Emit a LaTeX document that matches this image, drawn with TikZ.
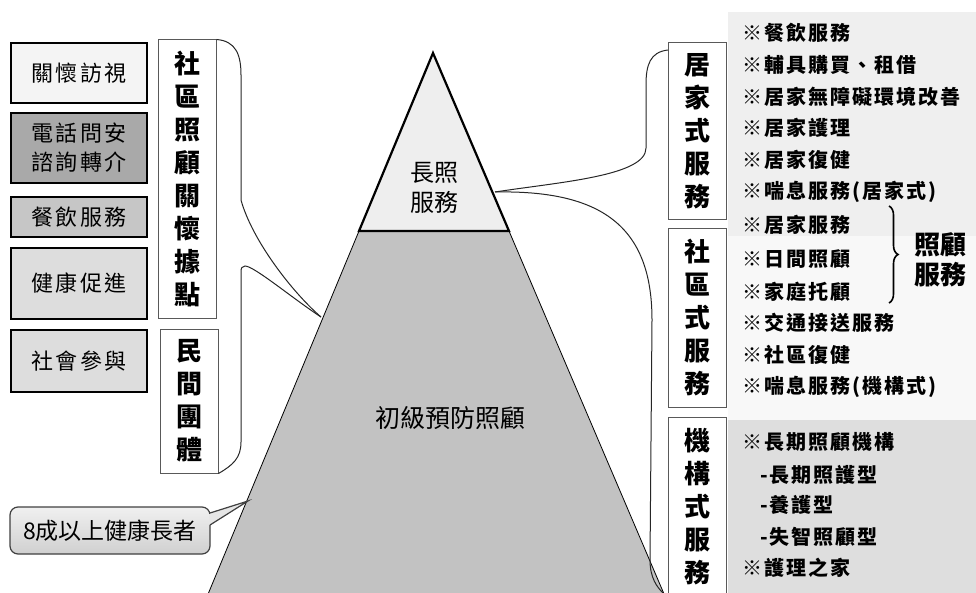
\documentclass[tikz,border=0pt]{standalone}
\usepackage{fontspec}
\setmainfont{Noto Sans CJK TC}
\newfontfamily\spacedcjk{Noto Sans CJK TC}[LetterSpace=10]
\usetikzlibrary{decorations.pathreplacing,calc}
\definecolor{pyrdark}{HTML}{C2C2C2}
\definecolor{pyrtop}{HTML}{EEEEEE}
\definecolor{bgA}{HTML}{EFEFEF}
\definecolor{bgB}{HTML}{F8F8F8}
\definecolor{bgC}{HTML}{DEDEDE}
\definecolor{fA}{HTML}{F4F4F4}
\definecolor{fB}{HTML}{A9A9A9}
\definecolor{fC}{HTML}{C6C6C6}
\definecolor{fD}{HTML}{DDDDDD}
\definecolor{callTop}{HTML}{F0F0F0}
\definecolor{callBot}{HTML}{D0D0D0}
\definecolor{callMid}{HTML}{E6E6E6}
\begin{document}
\begin{tikzpicture}[x=1pt,y=-1pt,
  lbox/.style={draw=black, line width=2.2pt, minimum width=136pt, inner sep=0pt, align=center,
    font=\spacedcjk\fontsize{22}{29}\selectfont},
  vbox/.style={draw=black!65, line width=1pt, fill=white, minimum width=58pt, inner sep=0pt, align=center,
    font=\bfseries\fontsize{26}{33}\selectfont},
  item/.style={anchor=west, inner sep=0pt, font=\spacedcjk\bfseries\fontsize{20}{22}\selectfont},
  link/.style={draw=black!85, line width=1pt},
  plabel/.style={inner sep=0pt, align=center, font=\fontsize{24}{30}\selectfont}
]
\useasboundingbox (0,0) rectangle (976,593);
\clip (0,0) rectangle (976,593);

% right background panels
\fill[bgA] (728,12) rectangle (976,236);
\fill[bgB] (728,236) rectangle (976,420);
\fill[bgC] (728,420) rectangle (976,593);

% pyramid
\fill[pyrdark] (359,231) -- (509,231) -- (666.6,600) -- (205.6,600) -- cycle;
\draw[line width=0.8pt] (359,231) -- (205.6,600);
\draw[line width=0.8pt] (509,231) -- (666.6,600);
\draw[line width=2.2pt, fill=pyrtop, line join=miter] (433,53) -- (509,231) -- (359,231) -- cycle;
\node[plabel] (lt) at (434,188) {長照\\服務};
\node[plabel, font=\fontsize{25}{30}\selectfont] (prim) at (450,418) {初級預防照顧};

\coordinate (pL) at (321,317);
\coordinate (pB) at (248,501);
\coordinate (pR) at (495,192);

% left boxes
\node[lbox, fill=fA, minimum height=60pt] (b1) at (79,73) {關懷訪視};
\node[lbox, fill=fB, minimum height=70pt] (b2) at (79,148) {電話問安\\諮詢轉介};
\node[lbox, fill=fC, minimum height=40pt] (b3) at (79,217) {餐飲服務};
\node[lbox, fill=fD, minimum height=71pt] (b4) at (79,283.5) {健康促進};
\node[lbox, fill=fD, minimum height=62pt] (b5) at (79,361) {社會參與};

% left vertical boxes
\node[vbox, minimum height=278pt] (va) at (187,179) {社\\區\\照\\顧\\關\\懷\\據\\點};
\node[vbox, minimum height=144pt] (vb) at (189,401) {民\\間\\團\\體};

% left bracket
\draw[link] (va.north east) .. controls (236,41) and (241,55) .. (241,75) -- (241,200)
  .. controls (252,240) and (292,292) .. (pL);
\draw[link] (pL) .. controls (292,298) and (254,266) .. (245,266)
  .. controls (242,266) and (241,268) .. (241,272) -- (241,442)
  .. controls (241,458) and (233,465) .. (vb.south east);

% callout
\node[draw=black!75, line width=1.2pt, rounded corners=8pt, top color=callTop, bottom color=callBot,
  minimum width=200pt, minimum height=47pt, inner sep=0pt, font=\fontsize{23}{26}\selectfont] (old) at (110,530.5) {8成以上健康長者};
\fill[callMid] (210,513) -- (pB) -- (210,525) -- cycle;
\fill[callMid] (208.5,513.5) rectangle (211.5,524.5);
\draw[draw=black!75, line width=1.2pt] (210,513) -- (pB) -- (210,525);

% right vertical boxes
\node[vbox, minimum height=177pt] (r1) at (697.5,131.5) {居\\家\\式\\服\\務};
\node[vbox, minimum height=178pt] (r2) at (697.5,318) {社\\區\\式\\服\\務};
\node[vbox, minimum height=180pt] (r3) at (697.5,507) {機\\構\\式\\服\\務};

% right bracket
\draw[link] (r1.north west |- 0,50) .. controls (650,52) and (646,65) .. (646,85) -- (646,148)
  .. controls (646,176) and (560,182) .. (pR);
\draw[link] (pR) .. controls (600,190) and (652,225) .. (652,320) -- (650,560)
  .. controls (650,578) and (657,587) .. (663,593);

% list items
\node[item] (i1) at (742,33) {※餐飲服務};
\node[item] (i2) at (742,65) {※輔具購買、租借};
\node[item] (i3) at (742,97) {※居家無障礙環境改善};
\node[item] (i4) at (742,128) {※居家護理};
\node[item] (i5) at (742,160) {※居家復健};
\node[item] (i6) at (742,192) {※喘息服務(居家式)};
\node[item] (i7) at (742,225) {※居家服務};
\node[item] (i8) at (742,259) {※日間照顧};
\node[item] (i9) at (742,292) {※家庭托顧};
\node[item] (i10) at (742,323) {※交通接送服務};
\node[item] (i11) at (742,355) {※社區復健};
\node[item] (i12) at (742,387) {※喘息服務(機構式)};
\node[item] (i13) at (742,442) {※長期照顧機構};
\node[item] (i14) at (760,475) {-長期照護型};
\node[item] (i15) at (760,505) {-養護型};
\node[item] (i16) at (760,537) {-失智照顧型};
\node[item] (i17) at (742,568) {※護理之家};

% brace
\coordinate (bt) at (889,206);
\coordinate (bb) at (889,303);
\draw[line width=1.6pt, decorate, decoration={brace, amplitude=9pt}] (bt) -- (bb);
\node[inner sep=0pt, align=center, font=\bfseries\fontsize{26}{30}\selectfont] (zf) at (940,260) {照顧\\服務};
\end{tikzpicture}
\end{document}
